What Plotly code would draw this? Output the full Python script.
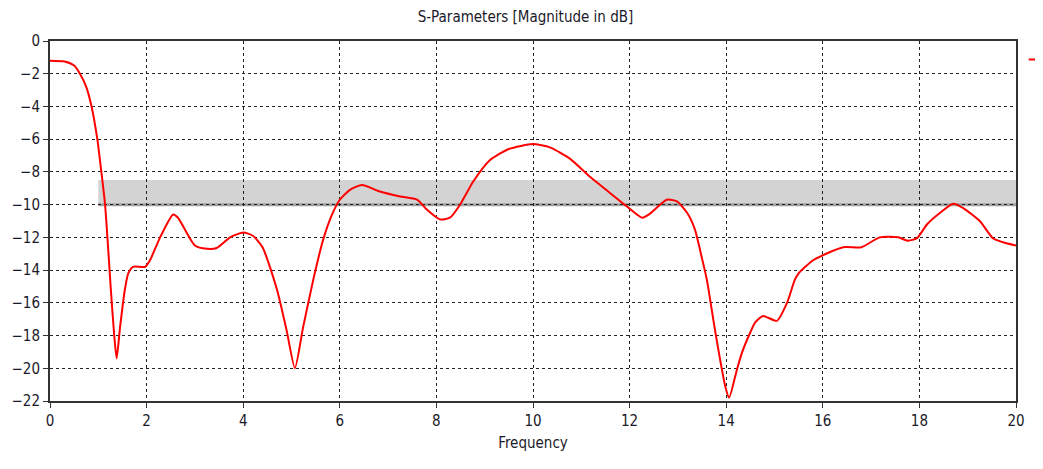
import plotly.graph_objects as go

# S11 curve (GHz, dB)
freq = [0.0, 0.3, 0.5, 0.62, 0.75, 0.86, 0.98, 1.035, 1.14, 1.26, 1.33, 1.38, 1.45, 1.55, 1.62,
        1.72, 1.97, 2.07, 2.28, 2.55, 2.65, 3.0, 3.25, 3.45, 3.73, 4.0, 4.2, 4.4, 4.7, 4.9,
        5.07, 5.24, 5.45, 5.65, 5.84, 6.0, 6.21, 6.46, 6.83, 7.25, 7.6, 7.8, 8.07, 8.28, 8.49,
        8.76, 9.1, 9.5, 10.0, 10.35, 10.77, 11.18, 11.6, 11.94, 12.26, 12.4, 12.77, 12.98,
        13.19, 13.35, 13.5, 13.6, 13.77, 13.98, 14.06, 14.22, 14.32, 14.5, 14.6, 14.76, 15.05,
        15.26, 15.42, 15.5, 15.8, 16.42, 16.8, 17.18, 17.56, 17.76, 17.95, 18.16, 18.43, 18.7,
        18.9, 19.25, 19.52, 19.73, 20.0]
s11 = [-1.2, -1.25, -1.5, -2.0, -2.8, -4.0, -6.0, -7.3, -10.0, -15.2, -18.0, -19.4, -17.5, -15.2, -14.2,
       -13.8, -13.8, -13.4, -12.0, -10.6, -10.8, -12.5, -12.7, -12.65, -12.0, -11.7, -11.9, -12.6, -15.2, -17.7,
       -20.0, -17.5, -14.6, -12.2, -10.6, -9.7, -9.1, -8.8, -9.2, -9.5, -9.7, -10.3, -10.9, -10.8, -10.0,
       -8.6, -7.3, -6.6, -6.3, -6.5, -7.2, -8.3, -9.3, -10.1, -10.8, -10.6, -9.7, -9.8,
       -10.5, -11.5, -13.3, -14.6, -17.7, -21.1, -21.8, -20.1, -19.1, -17.8, -17.2, -16.8, -17.1,
       -16.0, -14.6, -14.2, -13.4, -12.6, -12.6, -12.0, -12.0, -12.2, -12.05, -11.2, -10.5, -9.95,
       -10.2, -11.0, -12.05, -12.3, -12.5]

# target mask band
band_x = [1.0, 20.0]
band_y = [-10.0, -8.5]

x_ticks = list(range(0, 21, 2))
y_ticks = list(range(0, -23, -2))

font_family = "Liberation Sans Narrow, DejaVu Sans Condensed, Roboto, sans-serif"

fig = go.Figure()
fig.add_trace(go.Scatter(x=freq, y=s11, mode="lines", name=" ",
                         line=dict(color="#ff0000", width=2, shape="spline", smoothing=0.6)))

fig.add_shape(type="rect", xref="x", yref="y", x0=band_x[0], x1=band_x[1], y0=band_y[0], y1=band_y[1],
              fillcolor="#d3d3d3", line=dict(width=0), layer="below")
fig.add_shape(type="line", xref="x", yref="y", x0=band_x[0], x1=band_x[1], y0=band_y[0], y1=band_y[0],
              line=dict(color="#a0a0a0", width=3), layer="below")

axis_common = dict(showline=True, linecolor="#333333", linewidth=2, mirror=True,
                   ticks="outside", ticklen=5, tickcolor="#333333",
                   showgrid=True, gridcolor="#222222", gridwidth=1, griddash="dot",
                   zeroline=False, tickfont=dict(size=15, color="#1a1a2a", family=font_family))

fig.update_xaxes(range=[0, 20], tickvals=x_ticks, title=dict(text="Frequency", standoff=8,
                 font=dict(size=15, color="#1a1a2a", family=font_family)), **axis_common)
fig.update_yaxes(range=[-22, 0], tickvals=y_ticks, **axis_common)

# the page body adds an 8px margin, so the figure is sized to fit the window after it
fig.update_layout(
    width=1035, height=461,
    margin=dict(l=42, r=27, t=33, b=68, autoexpand=False),
    paper_bgcolor="white", plot_bgcolor="white",
    title=dict(text="S-Parameters [Magnitude in dB]", x=0.5, xanchor="center",
               y=0.98, yanchor="middle",
               font=dict(size=15, color="#1a1a2a", family=font_family)),
    showlegend=True,
    legend=dict(x=1.008, y=0.99, xanchor="left", yanchor="top", bgcolor="rgba(0,0,0,0)",
                font=dict(size=13, family=font_family)),
)

fig.write_html("out.html")
